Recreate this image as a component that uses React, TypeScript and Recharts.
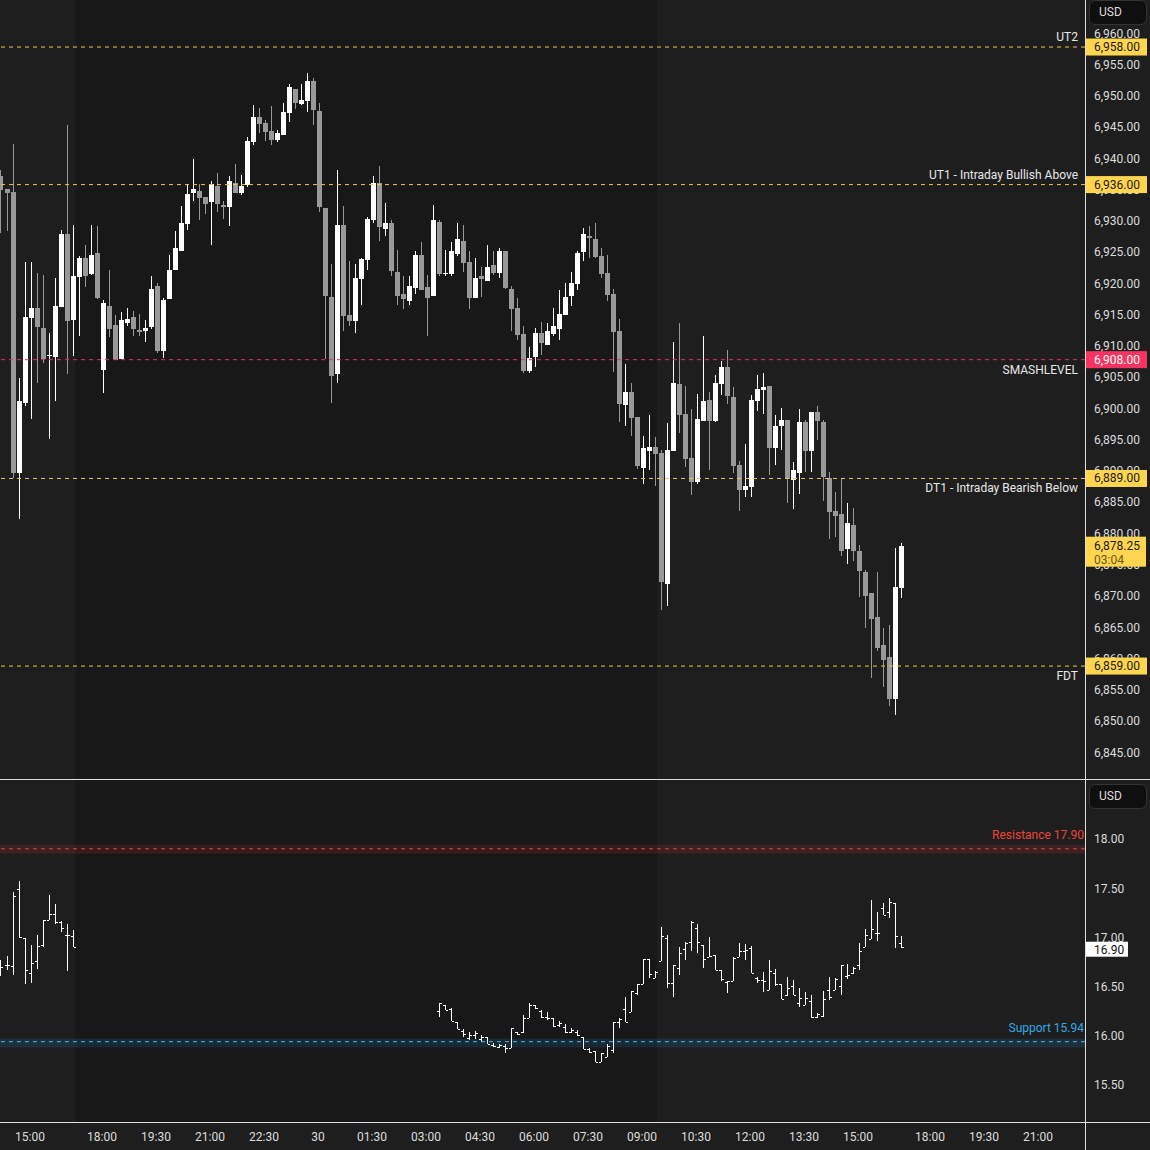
import React from 'react';
import { ComposedChart, Bar, XAxis, YAxis, ReferenceLine, ReferenceArea } from 'recharts';

// ---------------- data ----------------
// slot = 10-minute bar position on the time axis (0 = 15:00 of the first day)
const ES_FIRST_SLOT = -5;
const esOpen = [
  6937.4, 6935.3, 6934.8, 6889.9, 6901.1, 6914.7, 6916.3, 6913.1, 6908.6, 6908.4,
  6916.4, 6928.1, 6914.3, 6921.2, 6924.3, 6921.7, 6925.1, 6906.3, 6916.6, 6913.5,
  6908.1, 6913.9, 6914.8, 6912.7, 6912.6, 6913.2, 6919.8, 6909.4, 6917.7, 6922.3,
  6925.4, 6929.7, 6934.6, 6935.0, 6934.0, 6933.2, 6935.8, 6932.7, 6932.4, 6936.3,
  6934.6, 6935.9, 6942.8, 6946.8, 6945.8, 6944.6, 6943.1, 6943.9, 6947.4, 6951.3,
  6948.9, 6949.4, 6952.6, 6947.8, 6932.3, 6918.0, 6905.7, 6929.5, 6915.1, 6914.2,
  6920.9, 6923.9, 6930.3, 6936.3, 6928.9, 6929.9, 6922.0, 6918.5, 6917.4, 6919.5,
  6924.7, 6919.6, 6918.2, 6930.0, 6921.8, 6921.7, 6924.9, 6927.0, 6923.6, 6917.9,
  6921.4, 6920.6, 6923.1, 6921.8, 6925.4, 6919.3, 6916.3, 6912.1, 6906.2, 6908.4,
  6912.3, 6910.3, 6912.1, 6912.9, 6915.1, 6918.2, 6920.1, 6925.2, 6927.8, 6927.3,
  6924.6, 6921.8, 6918.5, 6912.6, 6900.7, 6902.8, 6898.8, 6890.7, 6893.4, 6894.0,
  6893.1, 6872.1, 6893.4, 6904.1, 6899.3, 6892.3, 6888.4, 6898.2, 6901.5, 6898.2,
  6904.1, 6906.8, 6902.0, 6891.2, 6887.2, 6887.6, 6901.4, 6903.1, 6903.8, 6893.9,
  6897.4, 6898.3, 6888.8, 6889.9, 6898.0, 6893.4, 6899.6, 6898.0, 6889.1, 6883.8,
  6883.3, 6877.7, 6881.6, 6877.4, 6874.0, 6870.7, 6866.8, 6862.4, 6860.4, 6853.7,
  6871.5,
];
const esHigh = [
  6938.3, 6935.3, 6942.5, 6905.1, 6923.6, 6923.6, 6921.9, 6921.5, 6912.3, 6921.1,
  6928.7, 6945.5, 6929.5, 6924.6, 6926.3, 6929.5, 6929.4, 6917.5, 6922.3, 6915.1,
  6915.6, 6916.3, 6915.8, 6915.3, 6914.3, 6921.4, 6920.3, 6917.9, 6924.7, 6928.6,
  6932.6, 6936.1, 6940.1, 6936.1, 6934.0, 6936.6, 6937.8, 6933.4, 6937.4, 6939.3,
  6937.5, 6943.6, 6948.7, 6948.2, 6946.3, 6948.6, 6944.7, 6949.0, 6952.1, 6951.3,
  6952.1, 6953.8, 6953.0, 6949.0, 6932.3, 6923.3, 6938.3, 6932.6, 6923.8, 6923.3,
  6924.3, 6930.8, 6937.4, 6939.0, 6933.1, 6930.3, 6925.5, 6921.4, 6921.4, 6925.4,
  6926.8, 6921.5, 6932.7, 6930.3, 6925.5, 6926.8, 6929.9, 6929.5, 6925.4, 6924.3,
  6922.8, 6926.3, 6925.4, 6925.9, 6925.4, 6919.8, 6917.9, 6913.4, 6910.0, 6913.1,
  6914.0, 6913.9, 6916.3, 6919.1, 6920.3, 6922.0, 6925.4, 6929.1, 6929.4, 6929.9,
  6925.9, 6924.7, 6919.3, 6914.5, 6907.3, 6904.3, 6898.8, 6895.8, 6899.1, 6895.6,
  6893.6, 6897.9, 6910.8, 6913.9, 6903.8, 6900.1, 6902.5, 6911.8, 6902.8, 6905.5,
  6907.8, 6909.5, 6903.6, 6891.8, 6894.5, 6902.3, 6905.5, 6905.9, 6903.8, 6899.1,
  6900.3, 6898.3, 6891.6, 6900.1, 6898.3, 6899.6, 6900.6, 6898.3, 6890.0, 6886.8,
  6889.1, 6885.1, 6884.3, 6878.4, 6874.4, 6870.7, 6874.0, 6865.1, 6865.6, 6877.9,
  6878.7,
];
const esLow = [
  6928.3, 6928.6, 6889.1, 6882.5, 6900.6, 6898.5, 6904.3, 6907.5, 6895.3, 6901.4,
  6916.4, 6905.7, 6908.6, 6911.8, 6919.6, 6921.5, 6917.7, 6902.7, 6911.6, 6907.9,
  6908.1, 6913.4, 6911.8, 6911.8, 6910.8, 6912.9, 6909.1, 6908.3, 6917.7, 6922.3,
  6925.4, 6928.7, 6933.4, 6930.3, 6931.3, 6926.3, 6931.6, 6930.5, 6929.4, 6934.6,
  6934.3, 6935.6, 6942.3, 6944.2, 6943.0, 6942.3, 6942.8, 6943.9, 6946.0, 6948.1,
  6948.7, 6947.6, 6945.5, 6931.6, 6908.1, 6901.1, 6904.3, 6912.6, 6913.4, 6912.3,
  6916.7, 6922.3, 6929.9, 6927.0, 6927.8, 6921.4, 6916.7, 6916.1, 6916.7, 6918.5,
  6919.1, 6911.8, 6918.2, 6921.4, 6921.4, 6921.4, 6924.6, 6922.0, 6916.1, 6917.9,
  6918.0, 6920.6, 6921.5, 6921.1, 6919.3, 6912.6, 6911.1, 6905.9, 6905.9, 6906.8,
  6908.7, 6910.3, 6911.8, 6911.1, 6915.1, 6916.6, 6919.1, 6923.8, 6924.3, 6924.3,
  6921.1, 6917.4, 6906.0, 6898.0, 6897.4, 6895.8, 6890.5, 6888.1, 6890.3, 6887.8,
  6868.0, 6868.6, 6893.4, 6896.3, 6890.8, 6886.4, 6888.1, 6898.2, 6890.3, 6898.0,
  6902.3, 6900.9, 6889.9, 6883.8, 6886.0, 6886.0, 6899.8, 6899.3, 6889.6, 6891.2,
  6893.6, 6885.1, 6884.1, 6886.5, 6890.0, 6890.0, 6895.1, 6885.4, 6879.3, 6879.6,
  6876.6, 6875.3, 6875.8, 6870.0, 6865.1, 6857.1, 6861.4, 6855.6, 6852.6, 6851.2,
  6869.9,
];
const esClose = [
  6935.1, 6934.6, 6889.9, 6901.4, 6914.8, 6916.3, 6913.2, 6908.1, 6908.7, 6916.6,
  6928.1, 6914.2, 6921.4, 6924.3, 6921.4, 6924.7, 6917.9, 6917.1, 6912.9, 6907.9,
  6914.3, 6914.5, 6912.9, 6912.4, 6913.1, 6919.3, 6909.4, 6917.5, 6922.3, 6925.9,
  6929.9, 6934.5, 6935.3, 6933.9, 6932.9, 6936.1, 6932.9, 6932.4, 6936.6, 6934.6,
  6935.8, 6943.0, 6946.8, 6945.7, 6944.4, 6943.1, 6944.2, 6947.6, 6951.6, 6949.0,
  6949.5, 6952.6, 6947.9, 6932.4, 6918.2, 6905.4, 6929.5, 6915.0, 6914.2, 6921.1,
  6924.1, 6930.5, 6936.3, 6929.2, 6929.9, 6922.2, 6918.2, 6917.7, 6919.8, 6924.7,
  6919.1, 6917.9, 6930.3, 6921.7, 6921.9, 6925.4, 6927.3, 6923.5, 6917.9, 6921.1,
  6920.9, 6922.8, 6921.8, 6925.4, 6919.5, 6916.1, 6911.9, 6906.2, 6908.3, 6912.3,
  6910.7, 6912.6, 6913.4, 6915.3, 6918.0, 6920.3, 6925.1, 6928.1, 6927.5, 6924.4,
  6921.7, 6918.3, 6912.4, 6900.9, 6902.8, 6898.7, 6891.0, 6893.9, 6894.0, 6892.9,
  6872.4, 6893.6, 6904.3, 6899.1, 6892.1, 6888.4, 6898.5, 6901.4, 6898.2, 6904.3,
  6906.8, 6902.2, 6891.0, 6887.2, 6887.8, 6901.5, 6903.3, 6903.6, 6893.9, 6897.4,
  6898.3, 6888.9, 6890.3, 6898.0, 6893.4, 6899.6, 6898.2, 6889.2, 6883.6, 6883.0,
  6877.4, 6881.9, 6877.4, 6874.2, 6870.2, 6866.5, 6861.9, 6860.0, 6853.7, 6871.6,
  6878.25,
];

// VIX bars: two trading segments [first slot, count]
const vixSegments: [number, number][] = [[-5, 13], [68, 78]];
const vixOpen = [
  16.75, 16.72, 16.71, 17.49, 16.99, 16.64, 16.76, 16.92, 17.18, 17.24, 17.16, 17.02, 17.01,
  16.25, 16.31, 16.27, 16.14, 16.05, 15.98, 16.01, 15.97, 15.99, 15.91, 15.89, 15.90, 15.88,
  16.04, 16.04, 16.18, 16.31, 16.25, 16.19, 16.18, 16.11, 16.09, 16.04, 16.04, 15.99, 15.87,
  15.85, 15.73, 15.78, 15.86, 16.14, 16.27, 16.24, 16.43, 16.53, 16.78, 16.59, 16.76, 16.99,
  16.54, 16.69, 16.88, 16.95, 17.10, 16.92, 16.80, 16.82, 16.67, 16.55, 16.56, 16.80, 16.86,
  16.89, 16.59, 16.57, 16.47, 16.64, 16.53, 16.41, 16.51, 16.33, 16.31, 16.35, 16.19, 16.20,
  16.47, 16.47, 16.51, 16.61, 16.64, 16.72, 16.90, 16.98, 17.04, 17.30, 17.26, 17.35, 16.94,
];
const vixHigh = [
  16.77, 16.81, 17.46, 17.57, 16.99, 16.92, 17.02, 17.18, 17.43, 17.34, 17.17, 17.14, 17.07,
  16.33, 16.31, 16.28, 16.14, 16.07, 16.04, 16.05, 16.01, 15.99, 15.93, 15.92, 15.92, 16.08,
  16.04, 16.21, 16.33, 16.31, 16.26, 16.24, 16.18, 16.15, 16.12, 16.08, 16.06, 15.99, 15.88,
  15.85, 15.83, 15.92, 16.14, 16.18, 16.39, 16.46, 16.53, 16.78, 16.78, 16.66, 17.11, 17.02,
  16.72, 16.90, 16.95, 17.17, 17.14, 16.92, 17.00, 16.82, 16.67, 16.56, 16.80, 16.94, 16.93,
  16.91, 16.60, 16.65, 16.77, 16.68, 16.53, 16.60, 16.57, 16.49, 16.44, 16.41, 16.23, 16.46,
  16.60, 16.59, 16.72, 16.73, 16.70, 16.94, 17.08, 17.38, 17.26, 17.35, 17.40, 17.35, 17.01,
];
const vixLow = [
  16.61, 16.67, 16.62, 16.99, 16.53, 16.54, 16.68, 16.90, 17.18, 17.14, 17.05, 16.66, 16.90,
  16.19, 16.26, 16.15, 16.07, 15.99, 15.96, 15.97, 15.94, 15.92, 15.89, 15.88, 15.83, 15.88,
  16.01, 16.03, 16.18, 16.27, 16.18, 16.16, 16.09, 16.09, 16.03, 16.03, 16.00, 15.87, 15.83,
  15.73, 15.73, 15.78, 15.83, 16.08, 16.14, 16.24, 16.41, 16.53, 16.59, 16.59, 16.76, 16.49,
  16.39, 16.62, 16.77, 16.86, 16.84, 16.69, 16.80, 16.67, 16.56, 16.43, 16.56, 16.80, 16.77,
  16.64, 16.54, 16.44, 16.47, 16.51, 16.37, 16.40, 16.41, 16.29, 16.31, 16.18, 16.18, 16.19,
  16.36, 16.47, 16.41, 16.58, 16.63, 16.67, 16.90, 16.98, 16.96, 17.23, 17.20, 16.89, 16.89,
];
const vixClose = [
  16.70, 16.72, 17.42, 17.00, 16.67, 16.74, 16.91, 17.18, 17.24, 17.16, 17.10, 17.02, 16.90,
  16.33, 16.26, 16.15, 16.07, 16.02, 16.01, 16.03, 15.99, 15.92, 15.90, 15.91, 15.88, 16.08,
  16.02, 16.18, 16.31, 16.28, 16.19, 16.18, 16.10, 16.13, 16.04, 16.06, 16.01, 15.87, 15.84,
  15.73, 15.83, 15.90, 16.14, 16.17, 16.14, 16.45, 16.53, 16.78, 16.63, 16.65, 17.01, 16.54,
  16.72, 16.84, 16.94, 17.16, 16.95, 16.78, 16.81, 16.67, 16.58, 16.56, 16.79, 16.86, 16.87,
  16.64, 16.57, 16.56, 16.66, 16.53, 16.37, 16.49, 16.41, 16.38, 16.38, 16.19, 16.22, 16.37,
  16.39, 16.58, 16.72, 16.62, 16.69, 16.86, 17.02, 17.08, 17.04, 17.23, 17.36, 17.01, 16.90,
];

// time axis
const timeTickSlots = [0, 12, 21, 30, 39, 48, 57, 66, 75, 84, 93, 102, 111, 120, 129, 138, 150, 159, 168];
const timeTickLabels = [
  '15:00', '18:00', '19:30', '21:00', '22:30', '30', '01:30', '03:00', '04:30', '06:00',
  '07:30', '09:00', '10:30', '12:00', '13:30', '15:00', '18:00', '19:30', '21:00',
];
// extended-hours session (darker background), in slots
const ethSession: [number, number] = [7.5, 104.5];

// price axis
const priceTicks = [
  6845, 6850, 6855, 6860, 6865, 6870, 6875, 6880, 6885, 6890, 6895, 6900,
  6905, 6910, 6915, 6920, 6925, 6930, 6935, 6940, 6945, 6950, 6955, 6960,
];
const levelValues = [6958, 6936, 6908, 6889, 6859];
const levelNames = ['UT2', 'UT1 - Intraday Bullish Above', 'SMASHLEVEL', 'DT1 - Intraday Bearish Below', 'FDT'];
const levelIsSmash = [false, false, true, false, false];
const levelNameAbove = [true, true, false, false, false];
const lastPrice = 6878.25;
const barCountdown = '03:04';

// VIX axis
const vixTicks = [15.5, 16, 16.5, 17, 17.5, 18];
const vixResistance = 17.9;
const vixSupport = 15.94;
const vixLast = 16.9;

// ---------------- layout / style ----------------
const FONT = 'Roboto, "Noto Sans", "DejaVu Sans", sans-serif';
const W = 1150;
const AXIS_W = 65;
const TOP_H = 779;
const BOTTOM_H = 371;
const X_DOMAIN: [number, number] = [-5, 175.83];
const TOP_DOMAIN: [number, number] = [6840.94, 6965.52];
const VIX_DOMAIN: [number, number] = [15.124, 18.599];
const BG = '#1e1e1e';
const BG_ETH = '#181818';
const YELLOW = '#ffd54f';
const PINK = '#f7345f';
const TEXT = '#dcdcdc';
const MARGIN = { top: 0, right: 0, bottom: 0, left: 0 };

const esData = esOpen.map((o, k) => ({
  slot: ES_FIRST_SLOT + k,
  o,
  h: esHigh[k],
  l: esLow[k],
  c: esClose[k],
  range: [esLow[k], esHigh[k]],
}));

const vixData: any[] = [];
{
  let k = 0;
  vixSegments.forEach(([start, count]) => {
    for (let j = 0; j < count; j++, k++) {
      vixData.push({
        slot: start + j,
        o: vixOpen[k],
        h: vixHigh[k],
        l: vixLow[k],
        c: vixClose[k],
        range: [vixLow[k], vixHigh[k]],
      });
    }
  });
}

const fmtPrice = (v: number) =>
  v.toLocaleString('en-US', { minimumFractionDigits: 2, maximumFractionDigits: 2 });

function geometry(props: any) {
  const { x, y, width, height, payload } = props;
  const top = Math.min(y, y + height);
  const bot = Math.max(y, y + height);
  const { h, l } = payload;
  const span = h - l || 1;
  const py = (v: number) => top + ((h - v) / span) * (bot - top);
  const cx = Math.round(x + width / 2);
  return { top, bot, py, cx };
}

function Candle(props: any) {
  if (!props.payload) return null;
  const { o, c } = props.payload;
  const { top, bot, py, cx } = geometry(props);
  const color = c >= o ? '#ffffff' : '#999999';
  const t = Math.round(top);
  const b = Math.max(t + 1, Math.round(bot));
  const bt = Math.round(py(Math.max(o, c)));
  const bb = Math.max(bt + 1, Math.round(py(Math.min(o, c))));
  return (
    <g>
      <rect x={cx} y={t} width={1} height={b - t} fill={color} />
      <rect x={cx - 2} y={bt} width={5} height={bb - bt} fill={color} />
    </g>
  );
}

function OhlcBar(props: any) {
  if (!props.payload) return null;
  const { o, c } = props.payload;
  const { top, bot, py, cx } = geometry(props);
  const t = Math.round(top);
  const b = Math.max(t + 1, Math.round(bot));
  return (
    <g fill="#ffffff">
      <rect x={cx} y={t} width={1} height={b - t} />
      <rect x={cx - 2} y={Math.round(py(o))} width={2} height={1} />
      <rect x={cx + 1} y={Math.round(py(c))} width={2} height={1} />
    </g>
  );
}

const PriceTick = (props: any) => (
  <text x={props.x + 9} y={props.y + 3} fill={TEXT} fontSize={12} fontFamily={FONT}>
    {fmtPrice(props.payload.value)}
  </text>
);

const VixTick = (props: any) => (
  <text x={props.x + 9} y={props.y + 4.5} fill={TEXT} fontSize={12} fontFamily={FONT}>
    {Number(props.payload.value).toFixed(2)}
  </text>
);

const TimeTick = (props: any) => {
  const idx = timeTickSlots.indexOf(props.payload.value);
  return (
    <text x={props.x} y={props.y + 19} fill={TEXT} fontSize={12} fontFamily={FONT} textAnchor="middle">
      {idx >= 0 ? timeTickLabels[idx] : ''}
    </text>
  );
};

function levelLabel(k: number) {
  return (p: any) => {
    const vb = p.viewBox || {};
    const right = vb.x + vb.width;
    const y = vb.y;
    const smash = levelIsSmash[k];
    return (
      <g>
        <text
          x={right - 7}
          y={levelNameAbove[k] ? y - 6 : y + 14}
          textAnchor="end"
          fill="#e8e8e8"
          fontSize={12}
          fontFamily={FONT}
        >
          {levelNames[k]}
        </text>
        <rect x={right + 1} y={y - 8.5} width={61} height={17} fill={smash ? PINK : YELLOW} />
        <text x={right + 9} y={y + 4} fill={smash ? '#ffffff' : '#1a1a1a'} fontSize={12} fontFamily={FONT}>
          {fmtPrice(levelValues[k])}
        </text>
      </g>
    );
  };
}

const lastPriceLabel = (p: any) => {
  const vb = p.viewBox || {};
  const right = vb.x + vb.width;
  const y = vb.y;
  return (
    <g>
      <rect x={right + 1} y={y - 9} width={60} height={30} fill={YELLOW} />
      <text x={right + 9} y={y + 4} fill="#1a1a1a" fontSize={12} fontFamily={FONT}>
        {fmtPrice(lastPrice)}
      </text>
      <text x={right + 9} y={y + 18} fill="#6b5a20" fontSize={12} fontFamily={FONT}>
        {barCountdown}
      </text>
    </g>
  );
};

const vixLineLabel = (text: string, color: string) => (p: any) => {
  const vb = p.viewBox || {};
  const right = vb.x + vb.width;
  return (
    <text x={right - 1} y={vb.y - 10} textAnchor="end" fill={color} fontSize={12} fontFamily={FONT}>
      {text}
    </text>
  );
};

const vixLastLabel = (p: any) => {
  const vb = p.viewBox || {};
  const right = vb.x + vb.width;
  return (
    <g>
      <rect x={right + 1} y={vb.y - 5.5} width={42} height={15} fill="#ffffff" />
      <text x={right + 9} y={vb.y + 6.5} fill="#111111" fontSize={12} fontFamily={FONT}>
        {vixLast.toFixed(2)}
      </text>
    </g>
  );
};

const UsdBox = ({ top }: { top: number }) => (
  <div
    style={{
      position: 'absolute',
      left: 1089,
      top,
      width: 47,
      height: 23,
      border: '1px solid #333333',
      borderRadius: 6,
      background: '#0f0f0f',
      color: TEXT,
      fontFamily: FONT,
      fontSize: 12,
      lineHeight: '23px',
      paddingLeft: 9,
      boxSizing: 'content-box',
    }}
  >
    USD
  </div>
);

// axes used by the transparent overlay charts (same scales, no visible ticks)
const OverlayAxes = ({ domain }: { domain: [number, number] }) => null;

export default function App() {
  return (
    <div style={{ position: 'absolute', left: 0, top: 0, width: W, height: 1150, background: BG, overflow: 'hidden' }}>
      {/* ES price pane */}
      <div style={{ position: 'absolute', left: 0, top: 0 }}>
        <ComposedChart width={W} height={TOP_H} data={esData} margin={MARGIN}>
          <XAxis dataKey="slot" type="number" domain={X_DOMAIN} allowDataOverflow hide />
          <YAxis
            orientation="right"
            width={AXIS_W}
            type="number"
            domain={TOP_DOMAIN}
            allowDataOverflow
            ticks={priceTicks}
            interval={0}
            axisLine={false}
            tickLine={false}
            tickSize={0}
            tickMargin={0}
            tick={PriceTick}
          />
          <ReferenceArea x1={ethSession[0]} x2={ethSession[1]} fill={BG_ETH} fillOpacity={1} stroke="none" />
          {levelValues.map((v, k) => (
            <ReferenceLine
              key={k}
              y={v}
              stroke={levelIsSmash[k] ? '#e0335e' : '#f5c542'}
              strokeDasharray="4 4"
              strokeWidth={1}
            />
          ))}
          <Bar dataKey="range" barSize={5} shape={Candle} isAnimationActive={false} />
        </ComposedChart>
      </div>
      {/* overlay with the level labels drawn above the price-axis ticks */}
      <div style={{ position: 'absolute', left: 0, top: 0 }}>
        <ComposedChart width={W} height={TOP_H} data={esData} margin={MARGIN}>
          <XAxis dataKey="slot" type="number" domain={X_DOMAIN} allowDataOverflow hide />
          <YAxis
            orientation="right"
            width={AXIS_W}
            type="number"
            domain={TOP_DOMAIN}
            allowDataOverflow
            axisLine={false}
            tickLine={false}
            tick={false}
          />
          {levelValues.map((v, k) => (
            <ReferenceLine key={k} y={v} stroke="none" label={levelLabel(k)} />
          ))}
          <ReferenceLine y={lastPrice} stroke="none" label={lastPriceLabel} />
        </ComposedChart>
      </div>
      {/* VIX pane */}
      <div style={{ position: 'absolute', left: 0, top: 780 }}>
        <ComposedChart width={W} height={BOTTOM_H} data={vixData} margin={MARGIN}>
          <XAxis
            dataKey="slot"
            type="number"
            domain={X_DOMAIN}
            allowDataOverflow
            ticks={timeTickSlots}
            interval={0}
            axisLine={false}
            tickLine={false}
            tickSize={0}
            tickMargin={0}
            height={29}
            tick={TimeTick}
          />
          <YAxis
            orientation="right"
            width={AXIS_W}
            type="number"
            domain={VIX_DOMAIN}
            allowDataOverflow
            ticks={vixTicks}
            interval={0}
            axisLine={false}
            tickLine={false}
            tickSize={0}
            tickMargin={0}
            tick={VixTick}
          />
          <ReferenceArea x1={ethSession[0]} x2={ethSession[1]} fill={BG_ETH} fillOpacity={1} stroke="none" />
          <ReferenceArea y1={17.85} y2={17.94} fill="#f23645" fillOpacity={0.14} stroke="none" />
          <ReferenceArea y1={15.88} y2={15.97} fill="#2196f3" fillOpacity={0.14} stroke="none" />
          <ReferenceLine
            y={vixResistance}
            stroke="#e5483f"
            strokeDasharray="4 4"
            label={vixLineLabel(`Resistance ${vixResistance.toFixed(2)}`, '#f04438')}
          />
          <ReferenceLine
            y={vixSupport}
            stroke="#4fb8ef"
            strokeDasharray="4 4"
            label={vixLineLabel(`Support ${vixSupport.toFixed(2)}`, '#33a8e8')}
          />
          <Bar dataKey="range" barSize={5} shape={OhlcBar} isAnimationActive={false} />
        </ComposedChart>
      </div>
      {/* overlay with the last-value label of the VIX pane */}
      <div style={{ position: 'absolute', left: 0, top: 780 }}>
        <ComposedChart width={W} height={BOTTOM_H} data={vixData} margin={MARGIN}>
          <XAxis dataKey="slot" type="number" domain={X_DOMAIN} allowDataOverflow height={29} tick={false} axisLine={false} tickLine={false} />
          <YAxis
            orientation="right"
            width={AXIS_W}
            type="number"
            domain={VIX_DOMAIN}
            allowDataOverflow
            axisLine={false}
            tickLine={false}
            tick={false}
          />
          <ReferenceLine y={vixLast} stroke="none" label={vixLastLabel} />
        </ComposedChart>
      </div>
      <div style={{ position: 'absolute', left: 0, top: 779, width: W, height: 1, background: '#e0e0e0' }} />
      <div style={{ position: 'absolute', left: 0, top: 1122, width: W, height: 1, background: '#e0e0e0' }} />
      <div style={{ position: 'absolute', left: 1085, top: 0, width: 1, height: 1150, background: '#e0e0e0' }} />
      <UsdBox top={0} />
      <UsdBox top={784} />
    </div>
  );
}
